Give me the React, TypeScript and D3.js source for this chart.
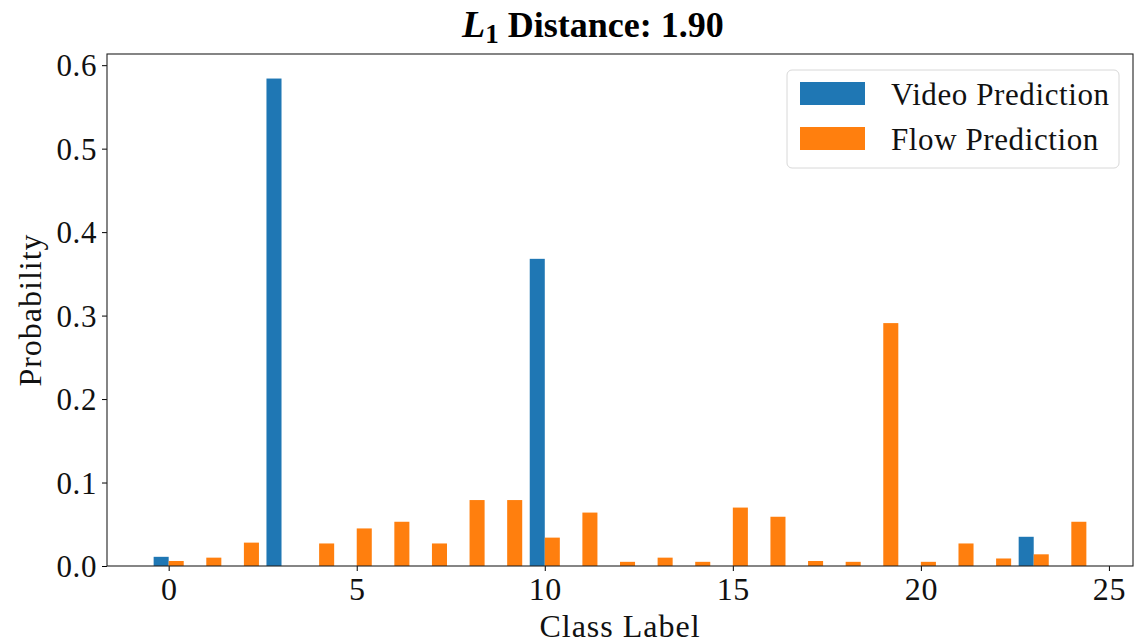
import { useEffect, useRef } from 'react';
import * as d3 from 'd3';

const classes = d3.range(25);
const videoValues = [0.011, 0, 0, 0.584, 0, 0, 0, 0, 0, 0, 0.368, 0, 0, 0, 0, 0, 0, 0, 0, 0, 0, 0, 0, 0.035, 0];
const flowValues = [0.006, 0.010, 0.028, 0, 0.027, 0.045, 0.053, 0.027, 0.079, 0.079, 0.034, 0.064, 0.005, 0.010, 0.005, 0.070, 0.059, 0.006, 0.005, 0.291, 0.005, 0.027, 0.009, 0.014, 0.053];
const yTicks = [0, 0.1, 0.2, 0.3, 0.4, 0.5, 0.6];
const xTicks = [0, 5, 10, 15, 20, 25];
const seriesNames = ['Video Prediction', 'Flow Prediction'];
const seriesColors = ['#1f77b4', '#ff7f0e'];

const W = 1148;
const H = 643;
const FONT = '"Liberation Serif", "DejaVu Serif", serif';

export default function App() {
  const svgRef = useRef<SVGSVGElement>(null);

  useEffect(() => {
    if (!svgRef.current) return;
    const svg = d3.select(svgRef.current);
    svg.selectAll('*').remove();

    const margin = { top: 54, right: 15, bottom: 77, left: 107 };
    const iw = W - margin.left - margin.right;
    const ih = H - margin.top - margin.bottom;
    const g = svg.append('g').attr('transform', `translate(${margin.left},${margin.top})`);

    const barW = 0.4;
    const x = d3.scaleLinear().domain([-0.4 - 1.24, 24.4 + 1.24]).range([0, iw]);
    const y = d3.scaleLinear().domain([0, 0.6134]).range([ih, 0]);

    const series = [videoValues, flowValues];
    series.forEach((vals, si) => {
      g.append('g')
        .selectAll('rect')
        .data(classes)
        .join('rect')
        .attr('x', (c) => x(si === 0 ? c - barW : c))
        .attr('width', x(barW) - x(0))
        .attr('y', (c) => y(vals[c]))
        .attr('height', (c) => ih - y(vals[c]))
        .attr('fill', seriesColors[si]);
    });

    // axes
    const yAxis = g.append('g').call(
      d3.axisLeft(y).tickValues(yTicks).tickSize(5).tickPadding(5).tickFormat(d3.format('.1f'))
    );
    const xAxis = g.append('g').attr('transform', `translate(0,${ih})`).call(
      d3.axisBottom(x).tickValues(xTicks).tickSize(5).tickPadding(6).tickFormat(d3.format('d'))
    );
    [yAxis, xAxis].forEach((a) => {
      a.select('.domain').remove();
      a.selectAll('line').attr('stroke', '#000').attr('stroke-width', 1);
      a.selectAll('text').attr('font-family', FONT).attr('fill', '#111').attr('letter-spacing', 0.6);
    });
    yAxis.selectAll('text').attr('font-size', 31).attr('dy', '0.34em');
    xAxis.selectAll('text').attr('font-size', 32).attr('dy', '0.72em');

    g.append('rect')
      .attr('width', iw).attr('height', ih)
      .attr('fill', 'none').attr('stroke', '#222').attr('stroke-width', 1.1);

    // labels
    svg.append('text')
      .attr('x', margin.left + iw / 2).attr('y', 637)
      .attr('text-anchor', 'middle').attr('font-family', FONT).attr('font-size', 32)
      .attr('letter-spacing', 1).attr('fill', '#111')
      .text('Class Label');
    svg.append('text')
      .attr('transform', `translate(41,${margin.top + ih / 2}) rotate(-90)`)
      .attr('text-anchor', 'middle').attr('font-family', FONT).attr('font-size', 32)
      .attr('letter-spacing', 1).attr('fill', '#111')
      .text('Probability');

    const title = svg.append('text')
      .attr('x', 462).attr('y', 37)
      .attr('text-anchor', 'start').attr('font-family', FONT).attr('font-size', 36)
      .attr('font-weight', 'bold').attr('fill', '#000');
    title.append('tspan').attr('font-style', 'italic').attr('font-size', 38).text('L');
    title.append('tspan').attr('font-size', 27).attr('dy', 6).text('1');
    title.append('tspan').attr('dy', -6).text(' Distance: 1.90');

    // legend
    const lg = svg.append('g').attr('transform', 'translate(787,70)');
    lg.append('rect')
      .attr('width', 332).attr('height', 98).attr('rx', 5)
      .attr('fill', '#fff').attr('stroke', '#d8d8d8').attr('stroke-width', 1);
    seriesNames.forEach((name, i) => {
      lg.append('rect')
        .attr('x', 13).attr('y', 12 + i * 45).attr('width', 65).attr('height', 23)
        .attr('fill', seriesColors[i]);
      lg.append('text')
        .attr('x', 104).attr('y', 35 + i * 45)
        .attr('font-family', FONT).attr('font-size', 31).attr('letter-spacing', 0.6).attr('fill', '#111')
        .text(name);
    });
  }, []);

  return (
    <div style={{ position: 'absolute', left: 0, top: 0 }}>
      <svg ref={svgRef} width={W} height={H} style={{ display: 'block', background: '#fff' }}></svg>
    </div>
  );
}
